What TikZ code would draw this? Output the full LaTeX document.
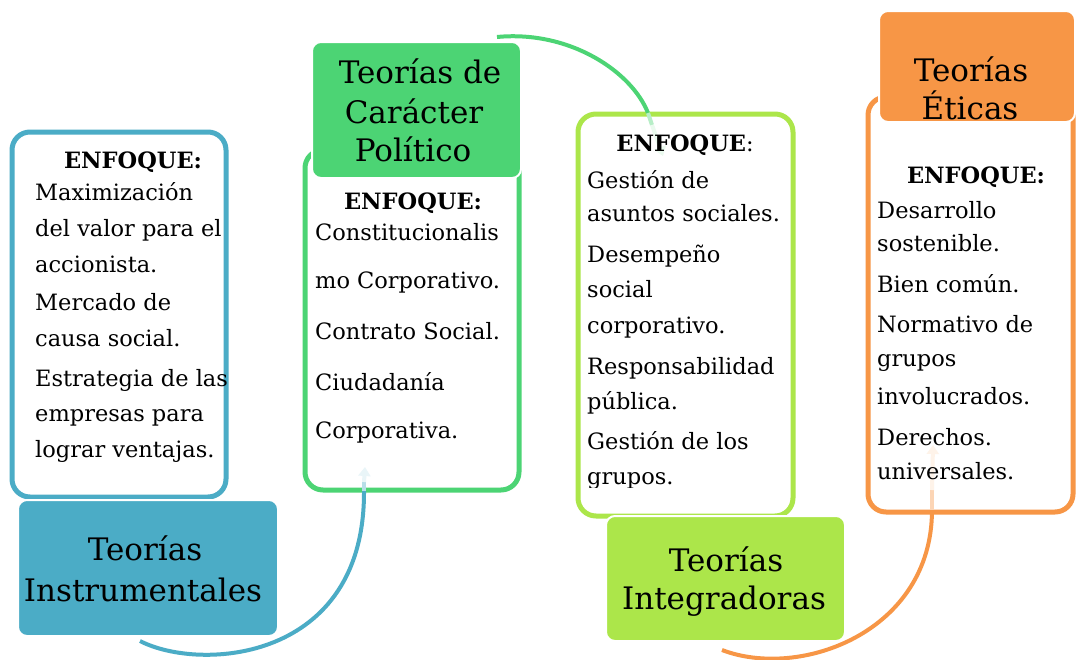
\documentclass[tikz,border=0pt]{standalone}
\usepackage{fontspec}
\setmainfont{DejaVu Serif}
\usetikzlibrary{arrows.meta}
\definecolor{cblue}{HTML}{4BACC6}
\definecolor{cgreen}{HTML}{4CD474}
\definecolor{clime}{HTML}{ACE64A}
\definecolor{corange}{HTML}{F79646}
\tikzset{
 cbox/.style={draw, line width=5pt, rounded corners=18pt, fill=white, inner sep=0pt, outer sep=0pt},
 hbox/.style={draw=white, line width=2pt, rounded corners=9pt, inner sep=0pt, outer sep=0pt},
 body/.style={font=\fontsize{22.5}{27}\selectfont, inner sep=0pt, anchor=base west},
 bodyc/.style={font=\fontsize{22.5}{27}\selectfont, inner sep=0pt, anchor=base},
 head/.style={font=\fontsize{31}{37}\selectfont, inner sep=0pt, anchor=base},
 conn/.style={line width=4pt},
 fadeA/.style={line width=4pt, -{Triangle[width=12pt,length=9pt]}},
}
\begin{document}
\begin{tikzpicture}[x=1pt,y=-1pt]
\useasboundingbox[fill=white] (0,0) rectangle (1076,659);

% content boxes
\node[cbox, draw=cblue, minimum width=214pt, minimum height=365pt] (insbox) at (119,314.5) {};
\node[cbox, draw=cgreen, minimum width=214pt, minimum height=340pt] (polbox) at (412,320) {};
\node[cbox, draw=clime, minimum width=215pt, minimum height=402pt] (intbox) at (685.5,315) {};
\node[cbox, draw=corange, minimum width=205pt, minimum height=415pt] (etibox) at (970.5,304.5) {};

% connectors
\coordinate (b0) at (140,641); \coordinate (bp) at (364,491); \coordinate (bm) at (364,482); \coordinate (b1) at (365,467);
\coordinate (g0) at (497,37);  \coordinate (gp) at (648,113); \coordinate (gm) at (652,125); \coordinate (g1) at (663,156);
\coordinate (o0) at (722,650); \coordinate (op) at (932,510); \coordinate (om) at (932,490); \coordinate (o1) at (933,445);
\draw[conn, cblue] (b0) .. controls (200,672) and (365,662) .. (bp);
\draw[conn, cblue!40] (bp) -- (bm);
\draw[fadeA, cblue!12] (bm) -- (b1);

\draw[conn, cgreen] (g0) .. controls (570,30) and (632,72) .. (gp);
\draw[conn, cgreen!40] (gp) -- (gm);
\draw[fadeA, cgreen!12] (gm) -- (g1);

\draw[conn, corange] (o0) .. controls (800,680) and (932,632) .. (op);
\draw[conn, corange!40] (op) -- (om);
\draw[fadeA, corange!12] (om) -- (o1);

% texts: instrumentales
\node[bodyc] (insE) at (133,168) {\textbf{ENFOQUE:}};
\foreach \yy/\mytext in {200/Maximización, 236/del valor para el, 272/accionista., 310/Mercado de, 346/causa social., 386/Estrategia de las, 421/empresas para, 457/lograr ventajas.}
  \node[body] (ins-\yy) at (35,\yy) {\mytext};

% politico
\node[bodyc] (polE) at (413,209) {\textbf{ENFOQUE:}};
\foreach \yy/\mytext in {240/Constitucionalis, 288/mo Corporativo., 339/Contrato Social., 390/Ciudadanía, 438/Corporativa.}
  \node[body] (pol-\yy) at (315,\yy) {\mytext};

% integradoras
\begin{scope}
\clip (578,114) rectangle (793,487);
\node[bodyc] (intE) at (685,151) {\textbf{ENFOQUE}:};
\foreach \yy/\mytext in {188/Gestión de, 221/asuntos sociales., 262/Desempeño, 297/social, 333/corporativo., 374/Responsabilidad, 409/pública., 449/Gestión de los, 484/grupos.}
  \node[body] (int-\yy) at (587,\yy) {\mytext};
\end{scope}

% eticas
\node[bodyc] (etiE) at (976,183) {\textbf{ENFOQUE:}};
\foreach \yy/\mytext in {218/Desarrollo, 251/sostenible., 292/Bien común., 332/Normativo de, 366/grupos, 404/involucrados., 445/Derechos., 479/universales.}
  \node[body] (eti-\yy) at (877,\yy) {\mytext};

% headers
\node[hbox, fill=cblue, minimum width=260pt, minimum height=136pt] (ins) at (148,568) {};
\node[hbox, fill=cgreen, minimum width=209pt, minimum height=136pt] (pol) at (416.5,110) {};
\node[hbox, fill=clime, minimum width=239pt, minimum height=125pt] (int) at (725.5,578.5) {};
\node[hbox, fill=corange, minimum width=196pt, minimum height=111pt] (eti) at (977,66.5) {};

\node[head] (insT1) at (145,560) {Teorías};
\node[head] (insT2) at (143,601) {Instrumentales};
\node[head] (polT1) at (420,83) {Teorías de};
\node[head] (polT2) at (414,123) {Carácter};
\node[head] (polT3) at (413,161) {Político};
\node[head] (intT1) at (726,571) {Teorías};
\node[head] (intT2) at (724,609) {Integradoras};
\node[head] (etiT1) at (971,81) {Teorías};
\node[head] (etiT2) at (970,119) {Éticas};
\end{tikzpicture}
\end{document}
